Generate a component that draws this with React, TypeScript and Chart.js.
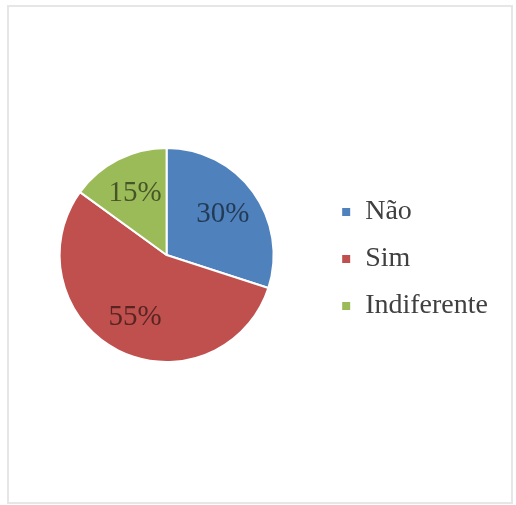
import React, { useEffect, useRef } from "react";
import { Chart, registerables } from "chart.js";

Chart.register(...registerables);

const categories = ["Não", "Sim", "Indiferente"];
const values = [30, 55, 15];
const sliceColors = ["#4F81BD", "#C0504D", "#9BBB59"];

const labelPlugin = {
  id: "sliceLabels",
  afterDatasetsDraw(chart: any) {
    const ctx = chart.ctx;
    const meta = chart.getDatasetMeta(0);
    const data = chart.data.datasets[0].data as number[];
    const total = data.reduce((a, b) => a + b, 0);
    ctx.save();
    ctx.font = "29px 'Liberation Serif', 'Times New Roman', serif";
    ctx.textAlign = "center";
    ctx.textBaseline = "middle";
    ctx.fillStyle = "rgba(0,0,0,0.55)";
    meta.data.forEach((arc: any, i: number) => {
      const p = arc.getProps(["x", "y", "startAngle", "endAngle", "outerRadius"], true);
      const mid = (p.startAngle + p.endAngle) / 2;
      const r = p.outerRadius * 0.65;
      const pct = Math.round((data[i] / total) * 100) + "%";
      ctx.fillText(pct, p.x + Math.cos(mid) * r, p.y + Math.sin(mid) * r);
    });
    ctx.restore();
  },
};

export default function App() {
  const canvasRef = useRef<HTMLCanvasElement | null>(null);

  useEffect(() => {
    if (!canvasRef.current) return;
    const chart = new Chart(canvasRef.current, {
      type: "pie",
      data: {
        labels: categories,
        datasets: [
          {
            data: values,
            backgroundColor: sliceColors,
            borderColor: "#ffffff",
            borderWidth: 2,
          },
        ],
      },
      options: {
        responsive: false,
        animation: false,
        layout: { padding: { left: 11, right: 18, top: 147, bottom: 142 } },
        plugins: {
          tooltip: { enabled: false },
          legend: {
            position: "right",
            align: "center",
            title: { display: true, text: " ", font: { size: 1 }, padding: { top: 3, bottom: 4 } },
            labels: {
              boxWidth: 10,
              boxHeight: 10,
              padding: 19,
              color: "#404040",
              font: { family: "'Liberation Serif', 'Times New Roman', serif", size: 28 },
            },
          },
        },
      },
      plugins: [labelPlugin],
    });
    return () => chart.destroy();
  }, []);

  return (
    <div style={{ position: "absolute", left: 0, top: 0, width: 516, height: 505, background: "#fff" }}>
      <div
        style={{
          position: "absolute",
          left: 7,
          top: 5,
          width: 502,
          height: 495,
          border: "2px solid #e6e6e6",
        }}
      />
      <canvas ref={canvasRef} width={516} height={505} style={{ position: "absolute", left: 0, top: 0 }} />
    </div>
  );
}
